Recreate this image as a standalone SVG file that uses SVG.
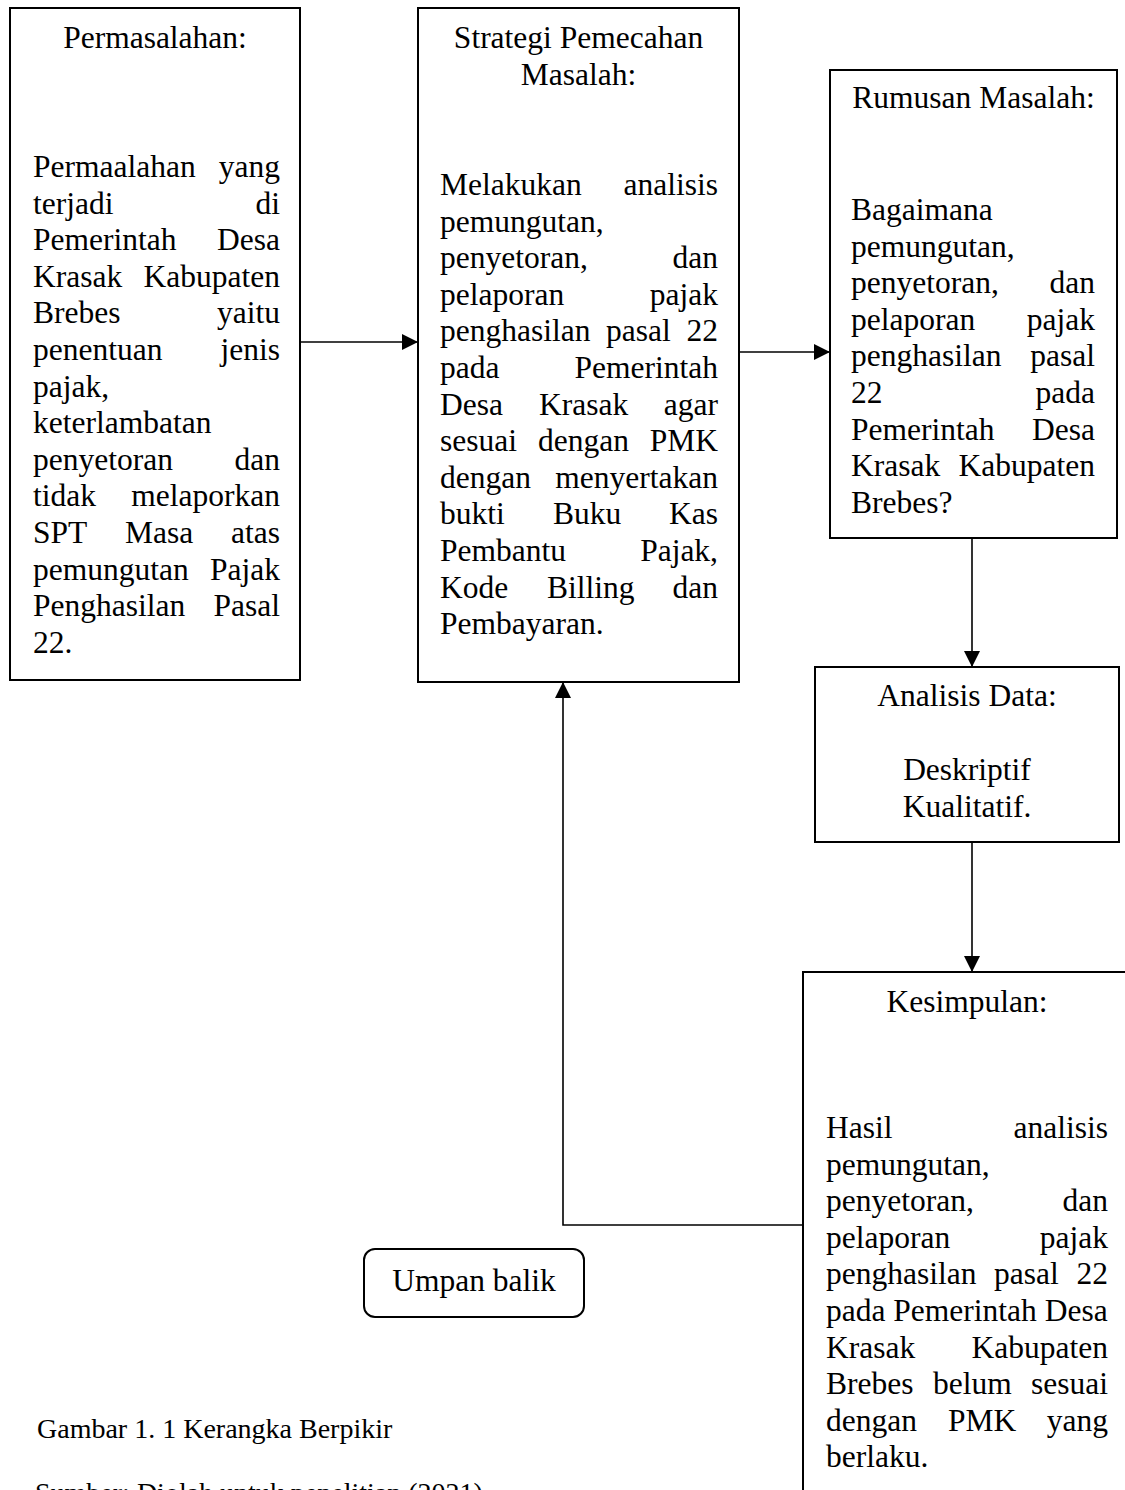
<svg xmlns="http://www.w3.org/2000/svg" width="1125" height="1490" viewBox="0 0 1125 1490">
<style>
text{font-family:"Liberation Serif","Times New Roman",serif;font-size:31.5px;fill:#000}
.c{text-anchor:middle}
.e{text-anchor:end}
.cap{font-size:28px}
.box{fill:#fff;stroke:#000;stroke-width:2}
.ln{fill:none;stroke:#000;stroke-width:1.6}
</style>
<defs>
<marker id="ah" markerUnits="userSpaceOnUse" markerWidth="16" markerHeight="16" viewBox="0 0 16 16" refX="16" refY="8" orient="auto">
<path d="M0,0 L16,8 L0,16 Z" fill="#000"/>
</marker>
</defs>
<rect width="1125" height="1490" fill="#fff"/>

<g id="permasalahan">
<rect class="box" x="10" y="8" width="290" height="672"/>
<text class="c" x="155" y="48">Permasalahan:</text>
<text x="33" y="177">Permaalahan</text><text class="e" x="280" y="177">yang</text>
<text x="33" y="213.6">terjadi</text><text class="e" x="280" y="213.6">di</text>
<text x="33" y="250.2">Pemerintah</text><text class="e" x="280" y="250.2">Desa</text>
<text x="33" y="286.8">Krasak</text><text class="e" x="280" y="286.8">Kabupaten</text>
<text x="33" y="323.4">Brebes</text><text class="e" x="280" y="323.4">yaitu</text>
<text x="33" y="360">penentuan</text><text class="e" x="280" y="360">jenis</text>
<text x="33" y="396.6">pajak,</text>
<text x="33" y="433.2">keterlambatan</text>
<text x="33" y="469.8">penyetoran</text><text class="e" x="280" y="469.8">dan</text>
<text x="33" y="506.4">tidak</text><text class="e" x="280" y="506.4">melaporkan</text>
<text x="33" y="543">SPT</text><text x="125" y="543">Masa</text><text class="e" x="280" y="543">atas</text>
<text x="33" y="579.6">pemungutan</text><text class="e" x="280" y="579.6">Pajak</text>
<text x="33" y="616.2">Penghasilan</text><text class="e" x="280" y="616.2">Pasal</text>
<text x="33" y="652.8">22.</text>
</g>

<g id="strategi">
<rect class="box" x="418" y="8" width="321" height="674"/>
<text class="c" x="578.5" y="48">Strategi Pemecahan</text>
<text class="c" x="578.5" y="85">Masalah:</text>
<text x="440" y="195">Melakukan</text><text class="e" x="718" y="195">analisis</text>
<text x="440" y="231.6">pemungutan,</text>
<text x="440" y="268.2">penyetoran,</text><text class="e" x="718" y="268.2">dan</text>
<text x="440" y="304.8">pelaporan</text><text class="e" x="718" y="304.8">pajak</text>
<text x="440" y="341.4">penghasilan</text><text x="606" y="341.4">pasal</text><text class="e" x="718" y="341.4">22</text>
<text x="440" y="378">pada</text><text class="e" x="718" y="378">Pemerintah</text>
<text x="440" y="414.6">Desa</text><text x="539" y="414.6">Krasak</text><text class="e" x="718" y="414.6">agar</text>
<text x="440" y="451.2">sesuai</text><text x="538" y="451.2">dengan</text><text class="e" x="718" y="451.2">PMK</text>
<text x="440" y="487.8">dengan</text><text class="e" x="718" y="487.8">menyertakan</text>
<text x="440" y="524.4">bukti</text><text x="553" y="524.4">Buku</text><text class="e" x="718" y="524.4">Kas</text>
<text x="440" y="561">Pembantu</text><text class="e" x="718" y="561">Pajak,</text>
<text x="440" y="597.6">Kode</text><text x="547" y="597.6">Billing</text><text class="e" x="718" y="597.6">dan</text>
<text x="440" y="634.2">Pembayaran.</text>
</g>

<g id="rumusan">
<rect class="box" x="830" y="70" width="287" height="468"/>
<text class="c" x="973.5" y="108">Rumusan Masalah:</text>
<text x="851" y="220">Bagaimana</text>
<text x="851" y="256.6">pemungutan,</text>
<text x="851" y="293.2">penyetoran,</text><text class="e" x="1095" y="293.2">dan</text>
<text x="851" y="329.8">pelaporan</text><text class="e" x="1095" y="329.8">pajak</text>
<text x="851" y="366.4">penghasilan</text><text class="e" x="1095" y="366.4">pasal</text>
<text x="851" y="403">22</text><text class="e" x="1095" y="403">pada</text>
<text x="851" y="439.6">Pemerintah</text><text class="e" x="1095" y="439.6">Desa</text>
<text x="851" y="476.2">Krasak</text><text class="e" x="1095" y="476.2">Kabupaten</text>
<text x="851" y="512.8">Brebes?</text>
</g>

<g id="analisis">
<rect class="box" x="815" y="667" width="304" height="175"/>
<text class="c" x="967" y="706">Analisis Data:</text>
<text class="c" x="967" y="780">Deskriptif</text>
<text class="c" x="967" y="817">Kualitatif.</text>
</g>

<g id="kesimpulan">
<rect class="box" x="803" y="972" width="400" height="600"/>
<text class="c" x="967" y="1012">Kesimpulan:</text>
<text x="826" y="1138">Hasil</text><text class="e" x="1108" y="1138">analisis</text>
<text x="826" y="1174.6">pemungutan,</text>
<text x="826" y="1211.2">penyetoran,</text><text class="e" x="1108" y="1211.2">dan</text>
<text x="826" y="1247.8">pelaporan</text><text class="e" x="1108" y="1247.8">pajak</text>
<text x="826" y="1284.4">penghasilan</text><text x="994" y="1284.4">pasal</text><text class="e" x="1108" y="1284.4">22</text>
<text x="826" y="1321">pada Pemerintah Desa</text>
<text x="826" y="1357.6">Krasak</text><text class="e" x="1108" y="1357.6">Kabupaten</text>
<text x="826" y="1394.2">Brebes</text><text x="933" y="1394.2">belum</text><text class="e" x="1108" y="1394.2">sesuai</text>
<text x="826" y="1430.8">dengan</text><text x="948" y="1430.8">PMK</text><text class="e" x="1108" y="1430.8">yang</text>
<text x="826" y="1467.4">berlaku.</text>
</g>

<g id="umpan-balik">
<rect class="box" x="364" y="1249" width="220" height="68" rx="11"/>
<text class="c" x="474" y="1291">Umpan balik</text>
</g>

<g id="connectors">
<path class="ln" d="M300,342 H418" marker-end="url(#ah)"/>
<path class="ln" d="M739,352 H830" marker-end="url(#ah)"/>
<path class="ln" d="M972,538 V667" marker-end="url(#ah)"/>
<path class="ln" d="M972,842 V972" marker-end="url(#ah)"/>
<path class="ln" d="M803,1225 H563 V682" marker-end="url(#ah)"/>
</g>

<g id="caption">
<text class="cap" x="37" y="1438">Gambar 1. 1 Kerangka Berpikir</text>
<text class="cap" x="35" y="1502">Sumber: Diolah untuk penelitian (2021)</text>
</g>
</svg>
